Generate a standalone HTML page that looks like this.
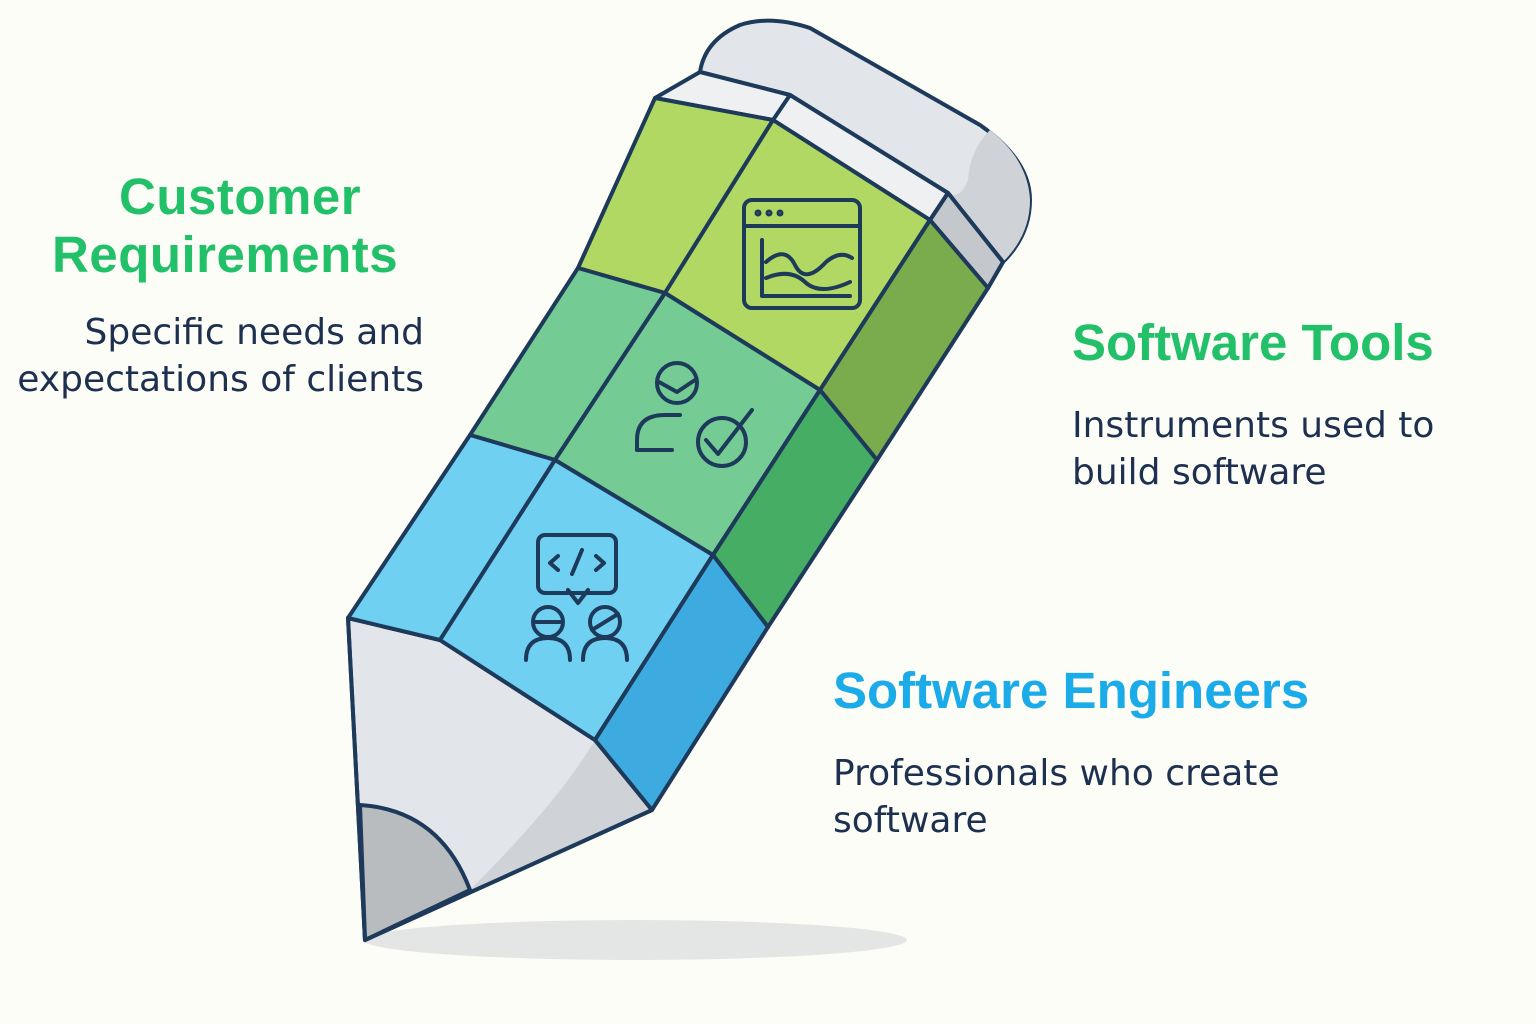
<!DOCTYPE html>
<html><head><meta charset="utf-8"><style>
html,body{margin:0;padding:0;background:#fdfdf7;}
body{width:1536px;height:1024px;position:relative;overflow:hidden;font-family:"Liberation Sans",sans-serif;}
.t{position:absolute;font-weight:bold;font-size:51px;line-height:58px;white-space:nowrap;}
.d{position:absolute;font-family:"DejaVu Sans","Liberation Sans",sans-serif;font-size:36px;line-height:47px;color:#1e3050;white-space:nowrap;}
</style></head><body>
<svg width="1536" height="1024" style="position:absolute;left:0;top:0">
<ellipse cx="635" cy="940" rx="272" ry="20" fill="#e4e6e6"/>
<g stroke="#1e3a5a" stroke-width="4" stroke-linejoin="round">
<path d="M700,72 Q705,40 740,25 Q770,15 810,28 L980,125 Q1030,160 1030,200 Q1030,235 1003,262 L948,193 L790,95 Z" fill="#e2e5e9"/>
<path d="M1003,262 Q1030,235 1030,200 Q1028,160 990,130 Q970,150 968,180 Q960,200 948,193 Z" fill="#cfd3d7" stroke="none"/>
<path d="M700,72 L790,95 L948,193 L1003,262 L988,288 L930,220 L773,120 L655,98 Z" fill="#eef0f2"/>
<path d="M948,193 L1003,262 L988,288 L930,220 Z" fill="#c4c8cc"/>
<path d="M790,95 L773,120 M948,193 L930,220" fill="none"/>
<path d="M348,618 L440,640 L595,740 L652,810 L365,940 Z" fill="#e2e5e9"/>
<path d="M595,740 L652,810 L470,890 Q560,800 595,740 Z" fill="#cfd3d7" stroke="none"/>
<path d="M360,805 Q440,810 470,890 L365,940 Z" fill="#b9bcbf"/>
<path d="M348,618 L440,640 L595,740 L652,810 L365,940 Z" fill="none"/>
<path d="M655,98 L773,120 L665,293 L578,268 Z" fill="#b0d862"/>
<path d="M773,120 L930,220 L820,390 L665,293 Z" fill="#b0d862"/>
<path d="M930,220 L988,288 L877,460 L820,390 Z" fill="#7aab4c"/>
<path d="M578,268 L665,293 L555,460 L470,435 Z" fill="#74cb94"/>
<path d="M665,293 L820,390 L713,555 L555,460 Z" fill="#74cb94"/>
<path d="M820,390 L877,460 L768,627 L713,555 Z" fill="#45ad64"/>
<path d="M470,435 L555,460 L440,640 L348,618 Z" fill="#6fd0f2"/>
<path d="M555,460 L713,555 L595,740 L440,640 Z" fill="#6fd0f2"/>
<path d="M713,555 L768,627 L652,810 L595,740 Z" fill="#3eabe0"/>
</g>
<g stroke="#1e3a5a" stroke-width="4" fill="none" stroke-linecap="round" stroke-linejoin="round">
<rect x="744" y="200" width="116" height="108" rx="8"/>
<line x1="744" y1="226" x2="860" y2="226"/>
<circle cx="758" cy="213" r="1.5"/><circle cx="769" cy="213" r="1.5"/><circle cx="780" cy="213" r="1.5"/>
<path d="M762,240 L762,296 L850,296"/>
<path d="M766,262 Q785,245 795,265 T826,262 Q840,250 852,258"/>
<path d="M766,278 Q790,268 805,282 T850,282"/>
<circle cx="677" cy="383" r="20"/>
<path d="M659,382 L677,392 L695,380"/>
<path d="M637,450 L637,440 Q637,415 665,415 L680,415"/>
<line x1="637" y1="450" x2="672" y2="450"/>
<circle cx="722" cy="442" r="24"/>
<path d="M706,440 L718,454 L752,410"/>
<rect x="538" y="535" width="78" height="58" rx="7"/>
<path d="M568,590 L578,603 L588,590"/>
<path d="M558,556 L550,563 L558,570 M596,556 L604,563 L596,570 M572,574 L582,550"/>
<circle cx="548" cy="622" r="15"/><line x1="534" y1="622" x2="562" y2="622"/>
<path d="M526,660 Q526,638 548,638 Q570,638 570,660"/>
<circle cx="605" cy="622" r="15"/><line x1="592" y1="630" x2="618" y2="614"/>
<path d="M583,660 Q583,638 605,638 Q627,638 627,660"/>
</g>
</svg>
<div class="t" style="left:119px;top:168px;color:#22c068;letter-spacing:0.5px">Customer</div>
<div class="t" style="left:52px;top:226px;color:#22c068;letter-spacing:0.5px">Requirements</div>
<div class="d" style="left:0;width:424px;top:309px;text-align:right">Specific needs and<br>expectations of clients</div>
<div class="t" style="left:1072px;top:314px;color:#22c068">Software Tools</div>
<div class="d" style="left:1072px;top:402px">Instruments used to<br>build software</div>
<div class="t" style="left:833px;top:662px;color:#1aabe8">Software Engineers</div>
<div class="d" style="left:833px;top:750px">Professionals who create<br>software</div>
</body></html>
